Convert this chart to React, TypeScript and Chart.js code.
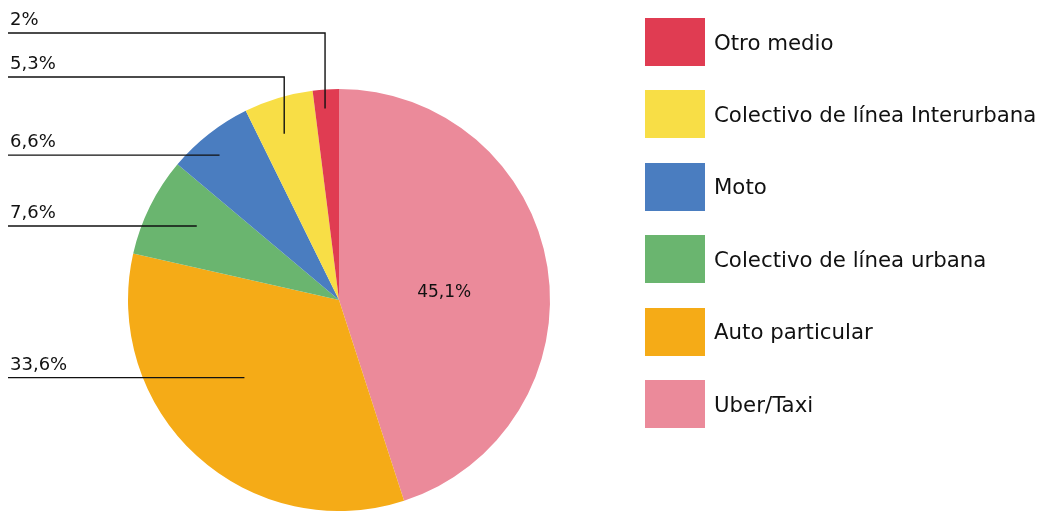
import React, { useEffect, useRef } from "react";
import { Chart, registerables } from "chart.js";

Chart.register(...registerables);

const categories = [
  "Uber/Taxi",
  "Auto particular",
  "Colectivo de línea urbana",
  "Moto",
  "Colectivo de línea Interurbana",
  "Otro medio",
];
const values = [45.1, 33.6, 7.6, 6.6, 5.3, 2];
const valueLabels = ["45,1%", "33,6%", "7,6%", "6,6%", "5,3%", "2%"];
const colors = ["#EB8A9A", "#F5AB17", "#6AB56F", "#4A7DC0", "#F8DE46", "#E03C52"];

// label placement: fraction along slice angle, fraction of radius, optional elbow line y
const labelAnchors = [
  { inside: true, a: 0.53, r: 0.5 },
  { a: 0.568, r: 0.58 },
  { a: 0.54, r: 0.76 },
  { a: 0.44, r: 0.89 },
  { a: 0.42, r: 0.83, elbowY: 77 },
  { a: 0.42, r: 0.91, elbowY: 33 },
];

const FONT = '"DejaVu Sans", sans-serif';

const leaderPlugin = {
  id: "leaderLabels",
  afterDatasetsDraw(chart: any) {
    const ctx = chart.ctx;
    const meta = chart.getDatasetMeta(0);
    ctx.save();
    meta.data.forEach((arc: any, i: number) => {
      const p = arc.getProps(["x", "y", "startAngle", "endAngle", "outerRadius"], true);
      const anc: any = labelAnchors[i];
      const ang = p.startAngle + anc.a * (p.endAngle - p.startAngle);
      const px = p.x + Math.cos(ang) * anc.r * p.outerRadius;
      const py = p.y + Math.sin(ang) * anc.r * p.outerRadius;
      if (anc.inside) {
        ctx.fillStyle = "#111";
        ctx.font = `17px ${FONT}`;
        ctx.textAlign = "center";
        ctx.textBaseline = "middle";
        ctx.fillText(valueLabels[i], px, py);
        return;
      }
      const lineY = anc.elbowY !== undefined ? anc.elbowY : py;
      ctx.strokeStyle = "#111";
      ctx.lineWidth = 1.4;
      ctx.beginPath();
      ctx.moveTo(8, lineY);
      ctx.lineTo(px, lineY);
      if (anc.elbowY !== undefined) ctx.lineTo(px, py);
      ctx.stroke();
      ctx.fillStyle = "#111";
      ctx.font = `18px ${FONT}`;
      ctx.textAlign = "left";
      ctx.textBaseline = "alphabetic";
      ctx.fillText(valueLabels[i], 10, lineY - 8);
    });
    ctx.restore();
  },
};

export default function App() {
  const canvasRef = useRef<HTMLCanvasElement | null>(null);

  useEffect(() => {
    document.body.style.margin = "0";
    const chart = new Chart(canvasRef.current as HTMLCanvasElement, {
      type: "pie",
      data: {
        labels: categories,
        datasets: [
          {
            data: values,
            backgroundColor: colors,
            borderWidth: 0,
          },
        ],
      },
      options: {
        animation: false,
        responsive: false,
        maintainAspectRatio: false,
        layout: { padding: { left: 127, right: 490, top: 89, bottom: 0 } },
        plugins: {
          legend: { display: false },
          tooltip: { enabled: false },
        },
      },
      plugins: [leaderPlugin],
    });
    return () => chart.destroy();
  }, []);

  const legendItems = categories.map((c, i) => ({ label: c, color: colors[i] })).reverse();

  return (
    <div style={{ position: "relative", width: 1041, height: 511, overflow: "hidden", background: "#fff" }}>
      <canvas ref={canvasRef} width={1041} height={511} style={{ position: "absolute", left: 0, top: 0 }} />
      {legendItems.map((it, i) => (
        <div
          key={it.label}
          style={{
            position: "absolute",
            left: 645,
            top: 18 + i * 72.4,
            height: 48,
            display: "flex",
            alignItems: "center",
            fontFamily: FONT,
            fontSize: 21.3,
            color: "#111",
            whiteSpace: "nowrap",
          }}
        >
          <div style={{ width: 60, height: 48, background: it.color, marginRight: 9 }} />
          <span>{it.label}</span>
        </div>
      ))}
    </div>
  );
}
